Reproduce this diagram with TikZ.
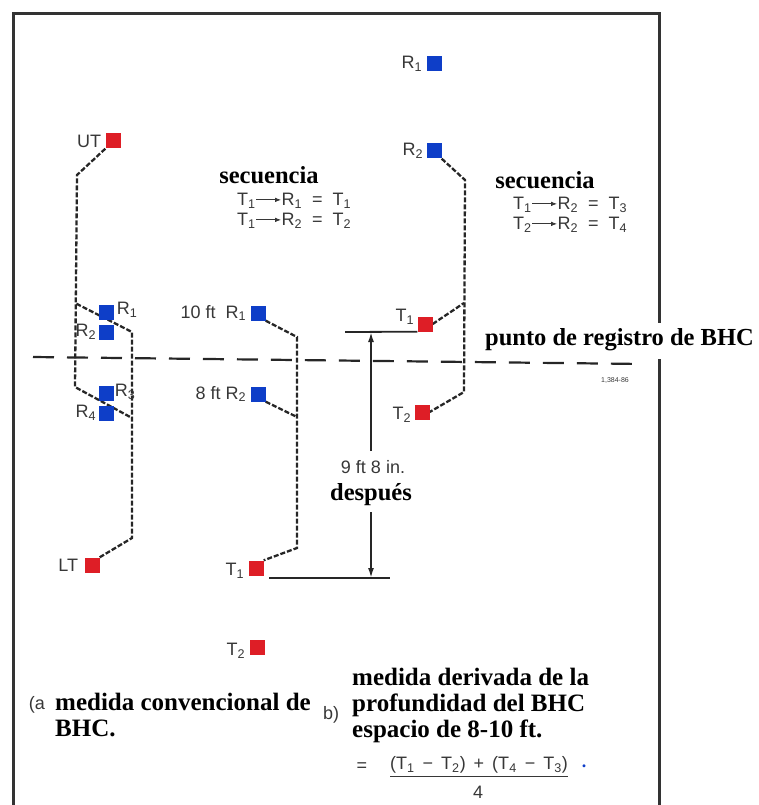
\documentclass[tikz,border=0pt]{standalone}
\usepackage{fontspec}
\setmainfont{Liberation Serif}
\setsansfont{Liberation Sans}
\usepackage{xcolor}
\usepackage{tikz}
\usetikzlibrary{arrows.meta, positioning, calc, backgrounds}
\definecolor{toolred}{RGB}{222,30,38}
\definecolor{toolblue}{RGB}{14,62,200}
\definecolor{inkgray}{RGB}{55,55,55}
\tikzset{
  xmitbox/.style={
    rectangle, fill=toolred, minimum size=15pt, inner sep=0pt
  },
  rcvrbox/.style={
    rectangle, fill=toolblue, minimum size=15pt, inner sep=0pt
  },
  toollabel/.style={
    font=\sffamily\fontsize{18}{20}\selectfont, text=inkgray, inner sep=1pt
  },
  wirepath/.style={
    line width=2.3pt, dash pattern=on 5pt off 2pt, color=black!85
  },
  refline/.style={
    line width=2.2pt, dash pattern=on 21pt off 13pt, color=black!85
  },
  frameline/.style={
    line width=3pt, color=black!80
  },
  dimline/.style={
    line width=1.8pt, color=black!85
  },
  dimarrow/.style={
    -{Latex[length=10pt,width=6pt]}, line width=1.8pt, color=black!85
  },
  headtext/.style={
    font=\bfseries\fontsize{24.5}{26}\selectfont, inner sep=0pt
  },
  captiontext/.style={
    font=\bfseries\fontsize{25}{26}\selectfont, align=left, inner sep=0pt
  },
  eqtext/.style={
    font=\sffamily\fontsize{18}{20}\selectfont, text=inkgray,
    align=left, inner sep=0pt
  },
}
\newcommand{\lo}[1]{\textsubscript{#1}}
\newcommand{\seqto}{\tikz[baseline=-0.6ex]\draw[-{Latex[length=6pt,width=4.5pt]}, line width=0.9pt, inkgray] (0pt,0pt) -- (25pt,0pt);}

\begin{document}
\begin{tikzpicture}[x=1pt, y=-1pt]
  \useasboundingbox (0,0) rectangle (758,805);

  % Frame
  \draw[frameline] (13,805) -- (13,14) -- (659,14) -- (659,323);
  \draw[frameline] (659,359) -- (659,805);

  % Reference depth line
  \coordinate (refl) at (33,357);
  \coordinate (refr) at (643,364);
  \draw[refline] (refl) -- (refr);
  \node[headtext, anchor=west] (bhcpoint) at (485,340) {punto de registro de BHC};
  \node[font=\sffamily\fontsize{7}{8}\selectfont, text=inkgray] (figno) at (615,381) {1,384-86};

  % (a) conventional tool
  \node[xmitbox] (ut) at (113,141) {};
  \node[toollabel, left=3pt of ut] (utlbl) {UT};
  \node[rcvrbox] (ar1) at (106,312) {};
  \node[toollabel, right=2pt of ar1, yshift=2pt] (ar1lbl) {R\lo1};
  \node[rcvrbox] (ar2) at (106,332) {};
  \node[toollabel, left=1pt of ar2] (ar2lbl) {R\lo2};
  \node[rcvrbox] (ar3) at (106,393) {};
  \node[toollabel, right=0pt of ar3, yshift=1pt] (ar3lbl) {R\lo3};
  \node[rcvrbox] (ar4) at (106,413) {};
  \node[toollabel, left=1pt of ar4] (ar4lbl) {R\lo4};
  \node[xmitbox] (lt) at (92,565) {};
  \node[toollabel, left=5pt of lt] (ltlbl) {LT};

  \coordinate (ua) at (77,175);
  \coordinate (ub) at (75,387);
  \coordinate (uc) at (132,418);
  \coordinate (la) at (132,538);
  \coordinate (lb) at (132,332);
  \coordinate (lc) at (75,303);
  \begin{scope}[on background layer]
    \draw[wirepath] (ut.south west) -- (ua) -- (ub) -- (uc);
    \draw[wirepath] (lt.north east) -- (la) -- (lb) -- (lc);
  \end{scope}

  \node[headtext] (seqa) at (269,175) {secuencia};
  \node[eqtext, anchor=north west] (eqa) at (237,193)
    {T\lo1\seqto R\lo1 \ = \ T\lo1\\T\lo1\seqto R\lo2 \ = \ T\lo2};

  % (b) depth-derived tool, 8-10 ft spacing
  \node[rcvrbox] (br1) at (258,313) {};
  \node[toollabel, left=3pt of br1] (br1lbl) {10 ft\ \ R\lo1};
  \node[rcvrbox] (br2) at (258,394) {};
  \node[toollabel, left=3pt of br2] (br2lbl) {8 ft R\lo2};
  \node[xmitbox] (bt1) at (256,568) {};
  \node[toollabel, left=3pt of bt1, yshift=-3pt] (bt1lbl) {T\lo1};
  \node[xmitbox] (bt2) at (257,647) {};
  \node[toollabel, left=3pt of bt2, yshift=-4pt] (bt2lbl) {T\lo2};

  \coordinate (ba) at (297,337);
  \coordinate (bb) at (297,548);
  \coordinate (bc) at (297,417);
  \begin{scope}[on background layer]
    \draw[wirepath] (br1.south east) -- (ba) -- (bb) -- (bt1.north east);
    \draw[wirepath] (br2.south east) -- (bc);
  \end{scope}

  % (b) tool after moving up
  \node[rcvrbox] (cr1) at (434,64) {};
  \node[toollabel, left=3pt of cr1] (cr1lbl) {R\lo1};
  \node[rcvrbox] (cr2) at (434,151) {};
  \node[toollabel, left=2pt of cr2] (cr2lbl) {R\lo2};
  \node[xmitbox] (ct1) at (425,324) {};
  \node[toollabel, left=2pt of ct1, yshift=7pt] (ct1lbl) {T\lo1};
  \node[xmitbox] (ct2) at (422,412) {};
  \node[toollabel, left=2pt of ct2, yshift=-3pt] (ct2lbl) {T\lo2};

  \coordinate (ca) at (465,180);
  \coordinate (cb) at (464,392);
  \coordinate (cc) at (464,303);
  \begin{scope}[on background layer]
    \draw[wirepath] (cr2.south east) -- (ca) -- (cb) -- (ct2.east);
    \draw[wirepath] (ct1.east) -- (cc);
  \end{scope}

  \node[headtext] (seqb) at (545,180) {secuencia};
  \node[eqtext, anchor=north west] (eqb) at (513,197)
    {T\lo1\seqto R\lo2 \ = \ T\lo3\\T\lo2\seqto R\lo2 \ = \ T\lo4};

  % Spacing between the two positions
  \coordinate (dimtl) at (345,332);
  \coordinate (dimbl) at (269,578);
  \coordinate (dimbr) at (390,578);
  \coordinate (dimtop) at (371,332);
  \coordinate (dimbot) at (371,578);
  \draw[dimline] (dimtl) -- (ct1.south west);
  \draw[dimline] (dimbl) -- (dimbr);
  \node[toollabel] (gap) at (373,467) {9 ft 8 in.};
  \node[headtext] (after) at (371,495) {después};
  \draw[dimarrow, shorten <=8pt] (gap.north -| dimtop) -- (dimtop);
  \draw[dimarrow, shorten <=6pt] (after.south -| dimbot) -- (dimbot);

  % Captions
  \node[toollabel] (capa) at (37,705) {(a};
  \node[captiontext, anchor=north west] (capatxt) at (55,693) {medida convencional de\\BHC.};
  \node[toollabel] (capb) at (331,715) {b)};
  \node[captiontext, anchor=north west] (capbtxt) at (352,668)
    {medida derivada de la\\profundidad del BHC\\espacio de 8-10 ft.};

  % Averaged depth formula
  \node[eqtext] (eqsign) at (362,767) {=};
  \node[eqtext] (num) at (479,765) {(T\lo1 \,−\, T\lo2) \,+\, (T\lo4 \,−\, T\lo3)};
  \draw[line width=1pt, inkgray] ([yshift=-3pt]num.south west) -- ([yshift=-3pt]num.south east);
  \node[eqtext] (den) at (478,792) {4};
  \node[font=\bfseries\fontsize{18}{20}\selectfont, text=toolblue, inner sep=0pt] (enddot) at (584,766) {.};
\end{tikzpicture}
\end{document}
